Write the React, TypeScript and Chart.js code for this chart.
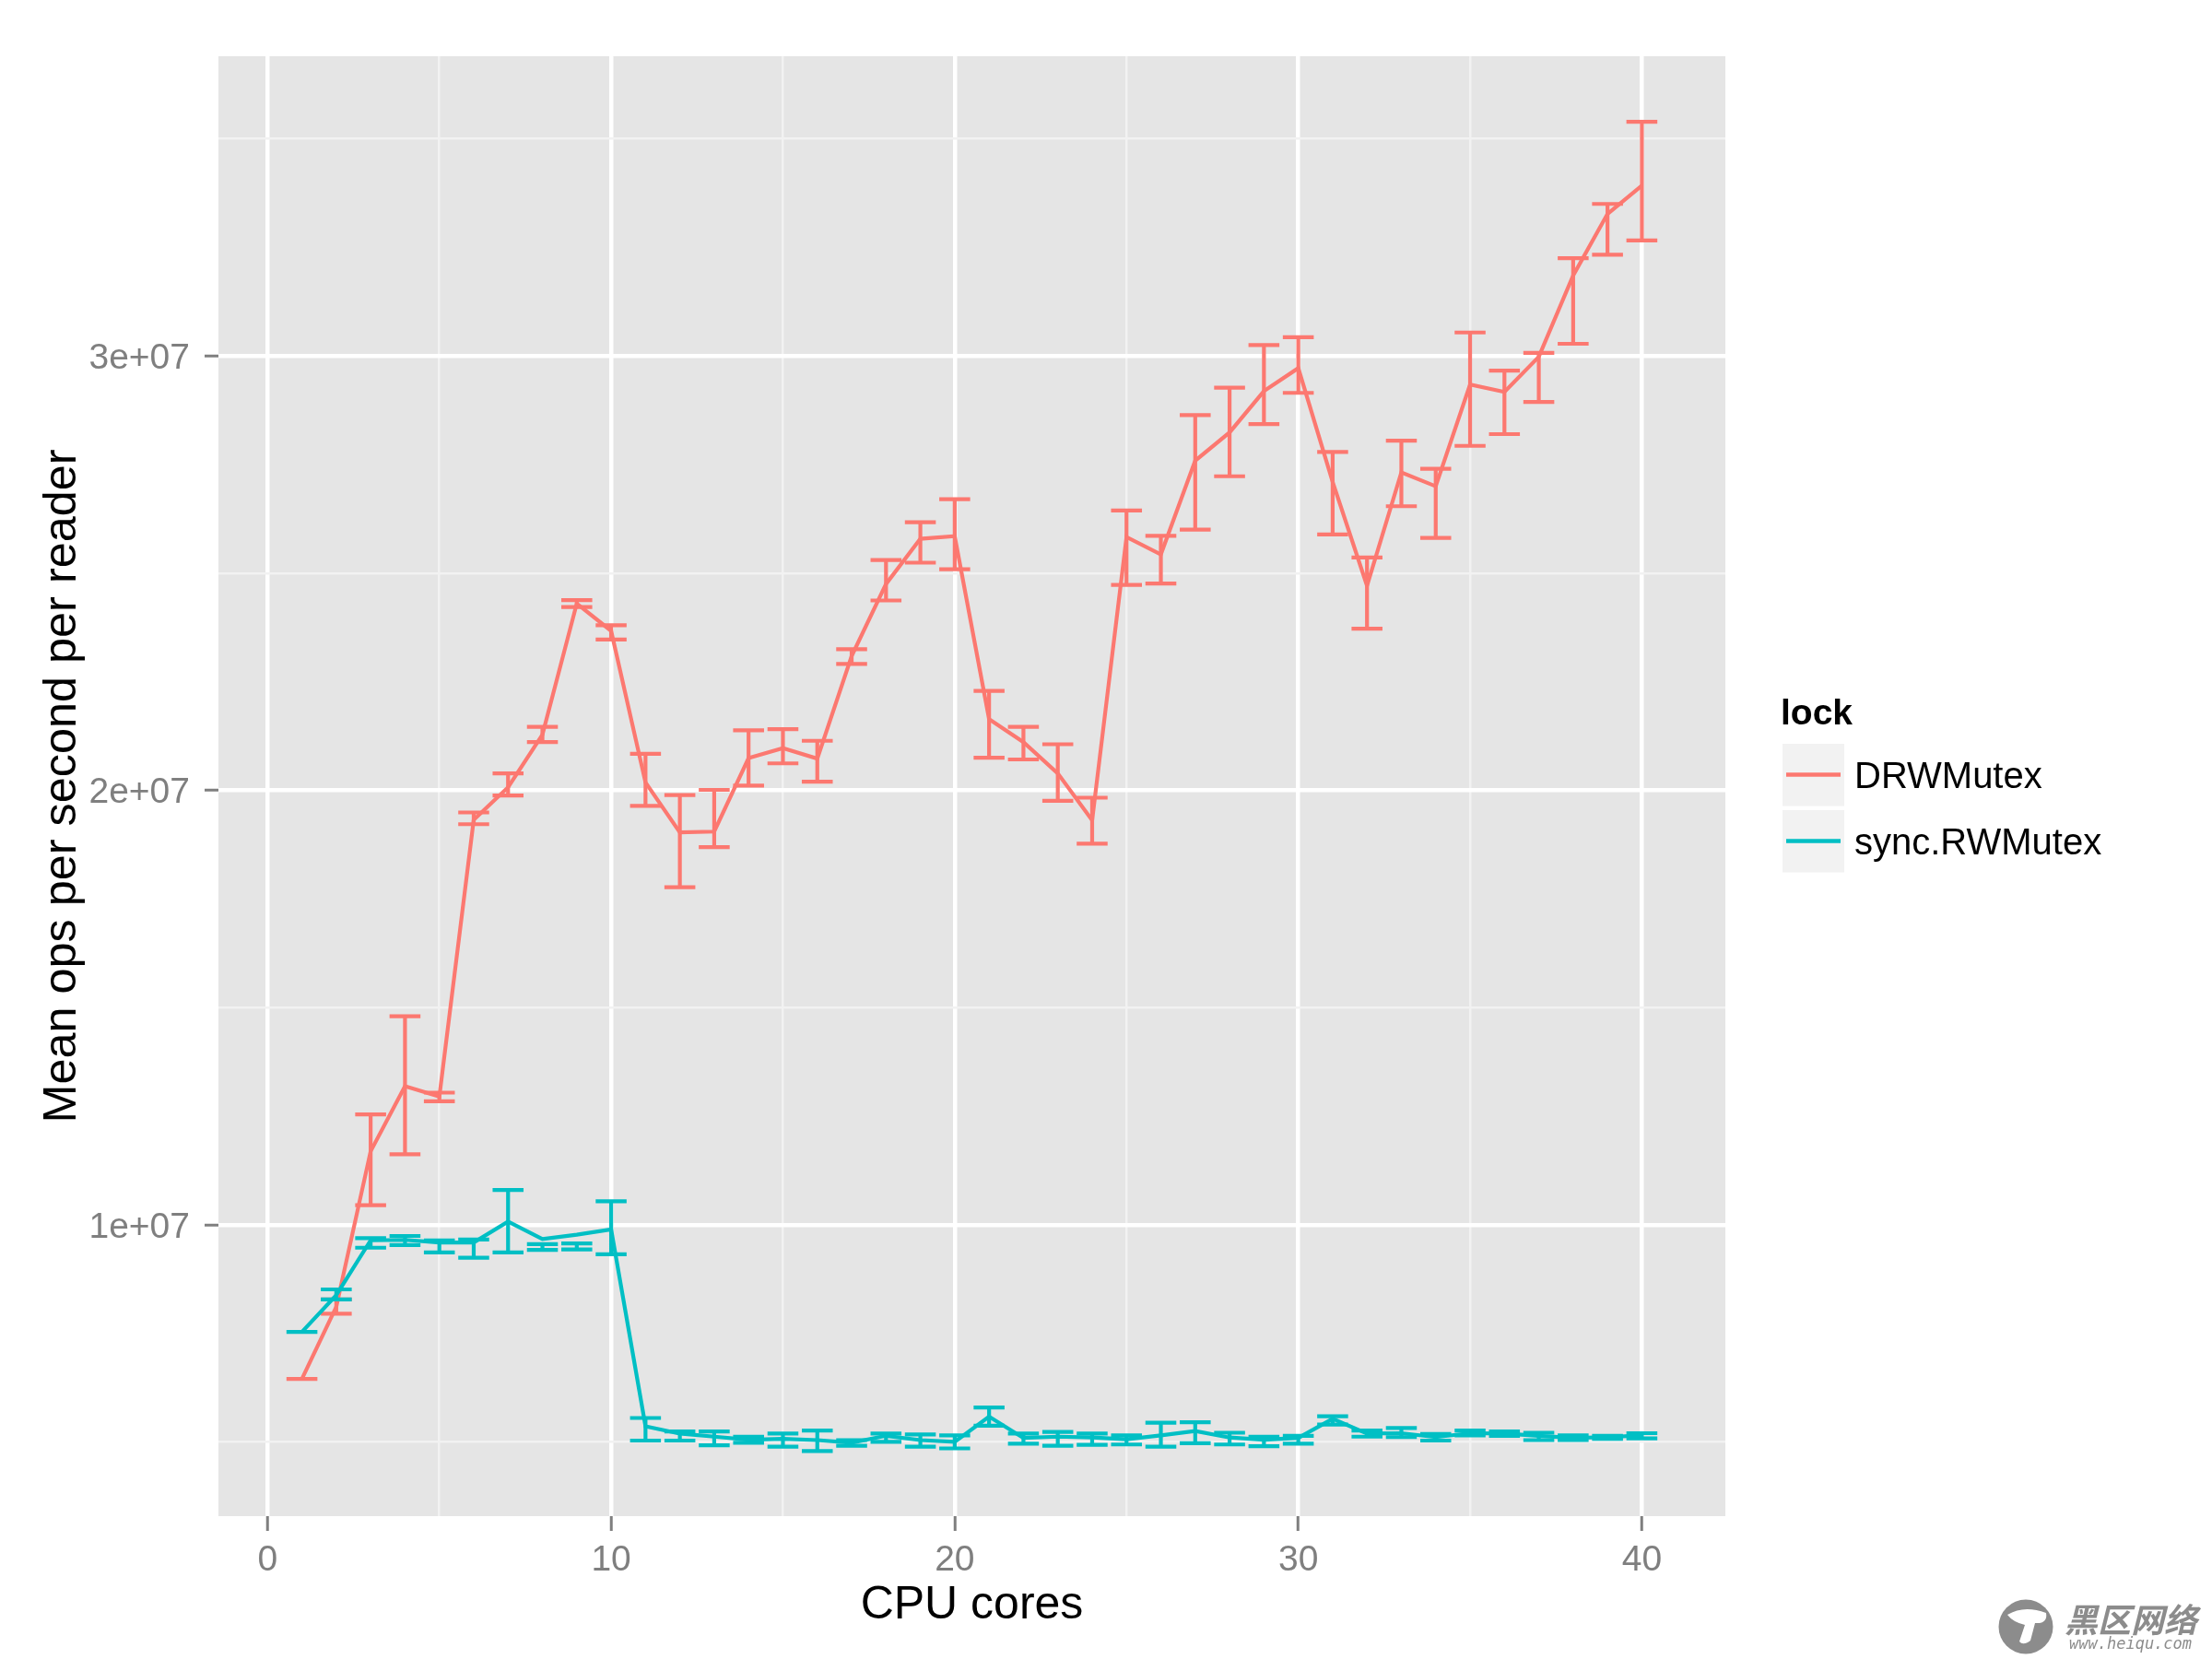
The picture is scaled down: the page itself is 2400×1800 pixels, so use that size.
import React, { useEffect, useRef } from "react";
import Chart from "chart.js/auto";

// All y values are in units of 1e7 ops per second
const cores = [
  1, 2, 3, 4, 5, 6, 7, 8, 9, 10, 11, 12, 13, 14, 15, 16, 17, 18, 19, 20,
  21, 22, 23, 24, 25, 26, 27, 28, 29, 30, 31, 32, 33, 34, 35, 36, 37, 38, 39, 40,
];

const drwMean = [
  0.645, 0.811, 1.169, 1.319, 1.295, 1.932, 2.007, 2.128, 2.43, 2.367,
  2.018, 1.903, 1.905, 2.074, 2.097, 2.073, 2.309, 2.475, 2.579, 2.585,
  2.164, 2.111, 2.039, 1.931, 2.583, 2.543, 2.759, 2.824, 2.919, 2.972,
  2.71, 2.471, 2.732, 2.7, 2.934, 2.917, 2.998, 3.185, 3.327, 3.392,
];
const drwLow = [
  0.645, 0.795, 1.045, 1.162, 1.284, 1.922, 1.988, 2.111, 2.422, 2.347,
  1.964, 1.777, 1.869, 2.011, 2.062, 2.02, 2.291, 2.437, 2.524, 2.509,
  2.075, 2.071, 1.976, 1.877, 2.473, 2.476, 2.6, 2.723, 2.843, 2.915,
  2.589, 2.372, 2.654, 2.581, 2.793, 2.82, 2.894, 3.028, 3.233, 3.266,
];
const drwHigh = [
  0.645, 0.828, 1.254, 1.48, 1.304, 1.949, 2.039, 2.146, 2.438, 2.38,
  2.084, 1.989, 2.001, 2.138, 2.141, 2.114, 2.325, 2.53, 2.617, 2.67,
  2.229, 2.146, 2.106, 1.983, 2.644, 2.586, 2.864, 2.927, 3.025, 3.043,
  2.779, 2.536, 2.805, 2.74, 3.054, 2.966, 3.007, 3.225, 3.35, 3.539,
];

const syncMean = [
  0.753, 0.838, 0.964, 0.965, 0.959, 0.959, 1.007, 0.967, 0.977, 0.989,
  0.536, 0.519, 0.512, 0.505, 0.507, 0.504, 0.498, 0.514, 0.504, 0.5,
  0.558, 0.509, 0.512, 0.51, 0.506, 0.515, 0.525, 0.51, 0.505, 0.509,
  0.553, 0.519, 0.52, 0.511, 0.52, 0.519, 0.514, 0.509, 0.511, 0.515,
];
const syncLow = [
  0.753, 0.828, 0.947, 0.953, 0.936, 0.924, 0.936, 0.942, 0.943, 0.932,
  0.503, 0.503, 0.492, 0.498, 0.489, 0.479, 0.491, 0.5, 0.489, 0.485,
  0.537, 0.496, 0.491, 0.493, 0.494, 0.489, 0.497, 0.494, 0.49, 0.496,
  0.54, 0.512, 0.511, 0.503, 0.515, 0.514, 0.504, 0.504, 0.507, 0.508,
];
const syncHigh = [
  0.753, 0.851, 0.969, 0.974, 0.964, 0.966, 1.08, 0.955, 0.957, 1.054,
  0.555, 0.524, 0.524, 0.512, 0.519, 0.526, 0.504, 0.519, 0.517, 0.515,
  0.579, 0.519, 0.523, 0.519, 0.515, 0.544, 0.545, 0.521, 0.512, 0.514,
  0.559, 0.526, 0.532, 0.518, 0.526, 0.524, 0.521, 0.515, 0.514, 0.52,
];

const xBreaks = [0, 5, 10, 15, 20, 25, 30, 35, 40];
const xLabelled = [0, 10, 20, 30, 40];
const yBreaks = [0.5, 1, 1.5, 2, 2.5, 3, 3.5];
const yLabelled = [1, 2, 3];
const yTickLabels = ["1e+07", "2e+07", "3e+07"];

const legendTitle = "lock";
const seriesNames = ["DRWMutex", "sync.RWMutex"];
const seriesColors = ["#FC7870", "#00BFC4"];

const CAP_HALF = 0.45; // errorbar width 0.9 in x units
const SANS = '"Liberation Sans", Arial, sans-serif';

// Vertical bars and caps as one broken line, gaps are null points
function errorBars(low: number[], high: number[]) {
  const pts: { x: number; y: number | null }[] = [];
  cores.forEach((c, i) => {
    pts.push({ x: c, y: low[i] }, { x: c, y: high[i] }, { x: c, y: null });
    pts.push({ x: c - CAP_HALF, y: low[i] }, { x: c + CAP_HALF, y: low[i] }, { x: c, y: null });
    pts.push({ x: c - CAP_HALF, y: high[i] }, { x: c + CAP_HALF, y: high[i] }, { x: c, y: null });
  });
  return pts;
}

function meanLine(mean: number[]) {
  return cores.map((c, i) => ({ x: c, y: mean[i] }));
}

// ggplot style legend on the right, plus the site mark in the corner
const sidePlugin = {
  id: "side",
  afterDraw(chart: Chart) {
    const ctx = chart.ctx;
    ctx.save();
    ctx.textBaseline = "alphabetic";
    ctx.textAlign = "left";
    ctx.fillStyle = "#000";
    ctx.font = `bold 39px ${SANS}`;
    ctx.fillText(legendTitle, 1932, 786);

    seriesNames.forEach((name, i) => {
      const top = 807 + i * 72;
      ctx.fillStyle = "#F2F2F2";
      ctx.fillRect(1934, top, 67, 67.5);
      ctx.strokeStyle = seriesColors[i];
      ctx.lineWidth = 4.5;
      ctx.beginPath();
      ctx.moveTo(1938, top + 33.5);
      ctx.lineTo(1997, top + 33.5);
      ctx.stroke();
      ctx.fillStyle = "#000";
      ctx.font = `40px ${SANS}`;
      ctx.fillText(name, 2012, top + 47.5);
    });

    ctx.fillStyle = "#8C8C8C";
    ctx.beginPath();
    ctx.arc(2198, 1765, 29.5, 0, Math.PI * 2);
    ctx.fill();
    ctx.fillStyle = "#FFF";
    ctx.beginPath();
    ctx.moveTo(2178, 1752);
    ctx.quadraticCurveTo(2196, 1741, 2220, 1750);
    ctx.quadraticCurveTo(2222, 1762, 2208, 1761);
    ctx.lineTo(2203, 1780);
    ctx.quadraticCurveTo(2195, 1786, 2191, 1781);
    ctx.lineTo(2197, 1763);
    ctx.quadraticCurveTo(2184, 1760, 2178, 1752);
    ctx.fill();

    ctx.fillStyle = "#8C8C8C";
    ctx.font = 'italic bold 36px "Noto Sans CJK SC"';
    ctx.fillText("黑区网络", 2240, 1771);
    ctx.font = 'italic 17px "DejaVu Sans Mono"';
    ctx.fillText("www.heiqu.com", 2245, 1789);
    ctx.restore();
  },
};

export default function App() {
  const canvasRef = useRef<HTMLCanvasElement | null>(null);

  useEffect(() => {
    if (!canvasRef.current) return;

    const lineStyle = { showLine: true, fill: false, pointRadius: 0, tension: 0, borderWidth: 4.2 };

    const chart = new Chart(canvasRef.current, {
      type: "scatter",
      data: {
        datasets: [
          { ...lineStyle, label: seriesNames[1], data: meanLine(syncMean), borderColor: seriesColors[1], order: 0 },
          { ...lineStyle, label: seriesNames[1] + " se", data: errorBars(syncLow, syncHigh), borderColor: seriesColors[1], order: 1 },
          { ...lineStyle, label: seriesNames[0], data: meanLine(drwMean), borderColor: seriesColors[0], order: 2 },
          { ...lineStyle, label: seriesNames[0] + " se", data: errorBars(drwLow, drwHigh), borderColor: seriesColors[0], order: 3 },
        ] as any,
      },
      options: {
        animation: false,
        responsive: false,
        devicePixelRatio: 1,
        events: [],
        layout: { padding: { top: 61, right: 528, left: 0, bottom: 0 } },
        plugins: {
          legend: { display: false },
          tooltip: { enabled: false },
        },
        scales: {
          x: {
            type: "linear",
            min: -1.43,
            max: 42.43,
            afterFit: (s: any) => { s.height = 155; },
            afterBuildTicks: (s: any) => { s.ticks = xBreaks.map((value) => ({ value })); },
            border: { display: false },
            grid: {
              color: (c: any) => (xLabelled.includes(c.tick.value) ? "#FFFFFF" : "#F2F2F2"),
              lineWidth: (c: any) => (xLabelled.includes(c.tick.value) ? 4.5 : 2.5),
              tickColor: (c: any) => (xLabelled.includes(c.tick.value) ? "#7F7F7F" : "transparent"),
              tickWidth: 3,
              tickLength: 16,
            },
            ticks: {
              autoSkip: false,
              maxRotation: 0,
              padding: 9,
              color: "#7F7F7F",
              font: { family: SANS, size: 39 },
              callback: (v: any) => (xLabelled.includes(v) ? String(v) : ""),
            },
            title: {
              display: true,
              text: "CPU cores",
              color: "#000",
              font: { family: SANS, size: 50, lineHeight: 1 },
              padding: { top: 0, bottom: 33 },
            },
          },
          y: {
            type: "linear",
            min: 0.329,
            max: 3.69,
            afterFit: (s: any) => { s.width = 237; },
            afterBuildTicks: (s: any) => { s.ticks = yBreaks.map((value) => ({ value })); },
            border: { display: false },
            grid: {
              color: (c: any) => (yLabelled.includes(c.tick.value) ? "#FFFFFF" : "#F2F2F2"),
              lineWidth: (c: any) => (yLabelled.includes(c.tick.value) ? 4.5 : 2.5),
              tickColor: (c: any) => (yLabelled.includes(c.tick.value) ? "#7F7F7F" : "transparent"),
              tickWidth: 3,
              tickLength: 15,
            },
            ticks: {
              autoSkip: false,
              padding: 16,
              labelOffset: 3,
              color: "#7F7F7F",
              font: { family: SANS, size: 39 },
              callback: (v: any) => {
                const i = yLabelled.indexOf(v);
                return i >= 0 ? yTickLabels[i] : "";
              },
            },
            title: {
              display: true,
              text: "Mean ops per second per reader",
              color: "#000",
              font: { family: SANS, size: 50.4, lineHeight: 1 },
              padding: { top: 43, bottom: 0 },
            },
          },
        },
      },
      plugins: [
        {
          id: "panelBg",
          beforeDraw(c: Chart) {
            const a = c.chartArea;
            c.ctx.save();
            c.ctx.fillStyle = "#E5E5E5";
            c.ctx.fillRect(a.left, a.top, a.right - a.left, a.bottom - a.top);
            c.ctx.restore();
          },
        },
        sidePlugin,
      ],
    } as any);

    return () => chart.destroy();
  }, []);

  return (
    <div style={{ position: "absolute", left: 0, top: 0, width: 2400, height: 1800 }}>
      <canvas ref={canvasRef} width={2400} height={1800} style={{ display: "block" }} />
    </div>
  );
}
